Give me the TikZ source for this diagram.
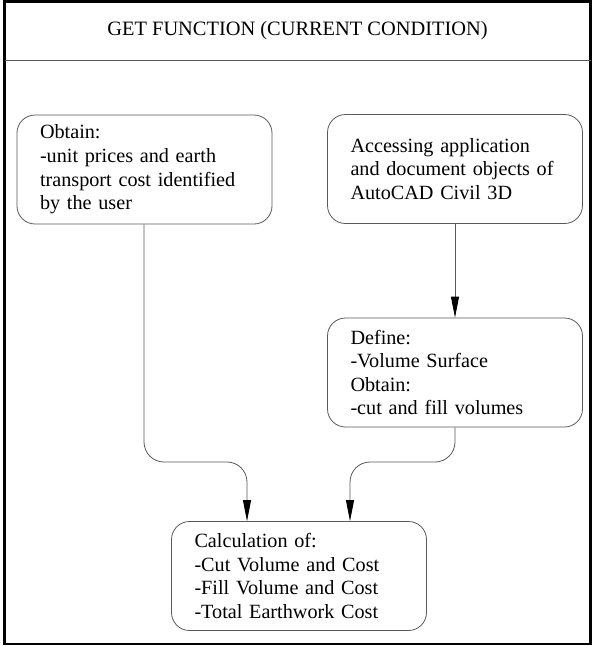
\documentclass[tikz,border=0pt]{standalone}
\usepackage{fontspec}
\setmainfont{Liberation Serif}
\usetikzlibrary{arrows.meta}
\begin{document}
\begin{tikzpicture}[x=1pt,y=-1pt,
  box/.style={draw=black!65, line width=0.8pt, rounded corners=18pt,
    minimum width=255pt, minimum height=109pt, inner xsep=23pt, inner ysep=0pt,
    text width=209pt, align=left, font=\fontsize{20.2}{23.6}\selectfont},
  conn/.style={draw=black!65, line width=0.8pt, rounded corners=20pt,
    -{Triangle[length=21pt,width=8pt,color=black]}},
  titlefont/.style={font=\fontsize{20.4}{24}\selectfont}]
\useasboundingbox (0,0) rectangle (592,646);
\draw[line width=2.6pt] (4.7,1.3) rectangle (590.5,644);
\coordinate (hl) at (4.7,60);
\coordinate (hr) at (590.5,60);
\draw[black!65, line width=0.8pt] (hl) -- (hr);
\node[titlefont, anchor=base, inner sep=0pt] (title) at (297.5,35.7) {GET FUNCTION (CURRENT CONDITION)};
\node[box] (obtain) at (144.5,169.5) {Obtain:\\-unit prices and earth transport cost identified by the user};
\node[box] (access) at (455,169) {Accessing application and document objects of AutoCAD Civil 3D};
\node[box] (define) at (455,372.5) {Define:\\-Volume Surface\\Obtain:\\-cut and fill volumes};
\node[box] (calc) at (299,576) {Calculation of:\\-Cut Volume and Cost\\-Fill Volume and Cost\\-Total Earthwork Cost};
\draw[conn] (access.south) -- (define.north);
\coordinate (l1) at (144,462);
\coordinate (l2) at (247,462);
\coordinate (r1) at (455,462);
\coordinate (r2) at (350,462);
\draw[conn] (obtain.south -| l1) -- (l1) -- (l2) -- (calc.north -| l2);
\draw[conn] (define.south -| r1) -- (r1) -- (r2) -- (calc.north -| r2);
\end{tikzpicture}
\end{document}
